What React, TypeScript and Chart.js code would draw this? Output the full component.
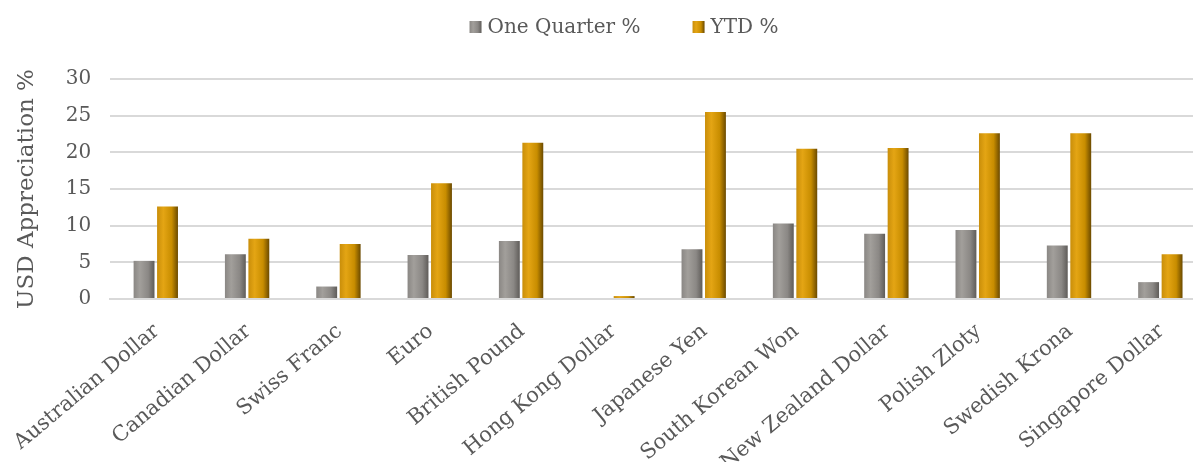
import React, { useEffect, useRef } from "react";
import { Chart, registerables } from "chart.js";

Chart.register(...registerables);

const categories = [
  "Australian Dollar",
  "Canadian Dollar",
  "Swiss Franc",
  "Euro",
  "British Pound",
  "Hong Kong Dollar",
  "Japanese Yen",
  "South Korean Won",
  "New Zealand Dollar",
  "Polish Zloty",
  "Swedish Krona",
  "Singapore Dollar",
];
const oneQuarter = [5.2, 6.1, 1.7, 6.0, 7.9, 0, 6.8, 10.3, 8.9, 9.4, 7.3, 2.3];
const ytd = [12.6, 8.2, 7.5, 15.8, 21.3, 0.4, 25.5, 20.5, 20.6, 22.6, 22.6, 6.1];
const seriesNames = ["One Quarter %", "YTD %"];
const yTicks = [0, 5, 10, 15, 20, 25, 30];

const FONT = "'DejaVu Serif', 'Liberation Serif', serif";
const TEXT = "#595959";

const grayStops: [number, string][] = [
  [0, "#8a8784"],
  [0.3, "#a29f9b"],
  [0.7, "#8b8885"],
  [1, "#5f5c59"],
];
const goldStops: [number, string][] = [
  [0, "#c98e0a"],
  [0.3, "#e4a514"],
  [0.7, "#c88d00"],
  [1, "#6b4a00"],
];

function gradientFor(stops: [number, string][], fallback: string) {
  return (ctx: any) => {
    const chart = ctx.chart;
    const meta = chart.getDatasetMeta(ctx.datasetIndex);
    const el: any = meta && meta.data ? meta.data[ctx.dataIndex] : null;
    if (!el || typeof el.x !== "number" || !el.width || isNaN(el.x)) return fallback;
    const g = chart.ctx.createLinearGradient(el.x - el.width / 2, 0, el.x + el.width / 2, 0);
    stops.forEach(([o, c]) => g.addColorStop(o, c));
    return g;
  };
}

const customLegend = {
  id: "customLegend",
  afterDraw(chart: any) {
    const ctx = chart.ctx;
    ctx.save();
    ctx.font = `20px ${FONT}`;
    ctx.textBaseline = "middle";
    ctx.textAlign = "left";
    const box = 12;
    const gapBoxText = 6;
    const gapItems = 52;
    const widths = seriesNames.map((t) => ctx.measureText(t).width);
    const total = widths.reduce((a, w) => a + box + gapBoxText + w, 0) + gapItems * (seriesNames.length - 1);
    let x = 624 - total / 2;
    const y = 27;
    const stopsArr = [grayStops, goldStops];
    seriesNames.forEach((name, i) => {
      const g = ctx.createLinearGradient(x, 0, x + box, 0);
      stopsArr[i].forEach(([o, c]) => g.addColorStop(o, c));
      ctx.fillStyle = g;
      ctx.fillRect(x, y - box / 2, box, box);
      x += box + gapBoxText;
      ctx.fillStyle = TEXT;
      ctx.fillText(name, x, y + 1);
      x += widths[i] + gapItems;
    });
    ctx.restore();
  },
};

export default function App() {
  const ref = useRef<HTMLCanvasElement | null>(null);
  useEffect(() => {
    document.body.style.margin = "0";
    if (!ref.current) return;
    const chart = new Chart(ref.current, {
      type: "bar",
      data: {
        labels: categories,
        datasets: [
          {
            label: seriesNames[0],
            data: oneQuarter,
            backgroundColor: gradientFor(grayStops, "#8a8784"),
            borderWidth: 0,
            categoryPercentage: 0.514,
            barPercentage: 0.89,
          },
          {
            label: seriesNames[1],
            data: ytd,
            backgroundColor: gradientFor(goldStops, "#c88d00"),
            borderWidth: 0,
            categoryPercentage: 0.514,
            barPercentage: 0.89,
          },
        ],
      },
      options: {
        responsive: true,
        maintainAspectRatio: false,
        animation: false,
        layout: { padding: { left: 6, right: 0, top: 79, bottom: 0 } },
        plugins: {
          tooltip: { enabled: false },
          legend: { display: false },
        },
        scales: {
          x: {
            grid: { display: false },
            border: { display: true, color: "#d9d9d9", width: 2 },
            afterFit: (axis: any) => {
              axis.height = 163;
            },
            ticks: {
              font: { family: FONT, size: 21 },
              color: TEXT,
              minRotation: 40,
              maxRotation: 40,
              autoSkip: false,
              padding: 12,
              labelOffset: 1,
            },
          },
          y: {
            min: 0,
            max: 30,
            afterBuildTicks: (axis: any) => {
              axis.ticks = yTicks.map((v) => ({ value: v }));
            },
            grid: { color: "#d9d9d9", lineWidth: 2, drawTicks: false },
            border: { display: false },
            ticks: {
              font: { family: FONT, size: 20 },
              color: TEXT,
              padding: 19,
            },
            title: {
              display: true,
              text: "USD Appreciation %",
              font: { family: FONT, size: 23 },
              color: TEXT,
              padding: { top: 0, bottom: 6 },
            },
          },
        },
      },
      plugins: [customLegend],
    });
    chart.update();
    return () => chart.destroy();
  }, []);
  return (
    <div style={{ position: "fixed", left: 0, top: 0, width: 1206, height: 462 }}>
      <canvas ref={ref} />
    </div>
  );
}
